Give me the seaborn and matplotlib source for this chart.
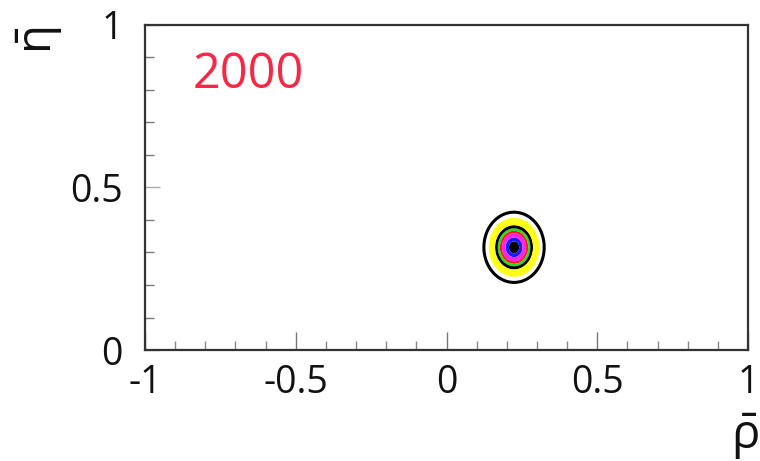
import numpy as np
import matplotlib
matplotlib.use("Agg")
import matplotlib.pyplot as plt
from matplotlib.ticker import MultipleLocator
import seaborn as sns

# ---- data ----
center_rho = 0.224          # contour centre (rho-bar)
center_eta = 0.316          # contour centre (eta-bar)
sigma_rho = 0.100           # half-width of outermost contour (rho)
sigma_eta = 0.108           # half-height of outermost contour (eta)
fill_levels = [0.0, 0.17, 0.28, 0.40, 0.47, 0.54, 0.63, 0.84]   # normalized radii bands
fill_colors = ["#000000", "#1a1aff", "#ff22ee", "#ff1a1a", "#1ee01e", "#000000", "#ffff1a"]
line_levels = [1.0]
x_ticks = [-1, -0.5, 0, 0.5, 1]
x_tick_labels = ["-1", "-0.5", "0", "0.5", "1"]
y_ticks = [0, 0.5, 1]
y_tick_labels = ["0", "0.5", "1"]
year_label = "2000"

sns.set_theme(style="ticks")
plt.rcParams["font.family"] = ["Open Sans", "DejaVu Sans"]
plt.rcParams["mathtext.fontset"] = "custom"
plt.rcParams["mathtext.rm"] = "Open Sans"
plt.rcParams["mathtext.it"] = "Open Sans:italic"
plt.rcParams["mathtext.bf"] = "Open Sans:bold"

fig = plt.figure(figsize=(7.6, 4.61), dpi=100)
ax = fig.add_axes([145 / 760, 111 / 461, 603 / 760, 325 / 461])

# grid of normalized distance from the fit centre
gx = np.linspace(center_rho - 0.2, center_rho + 0.2, 500)
gy = np.linspace(center_eta - 0.2, center_eta + 0.2, 500)
GX, GY = np.meshgrid(gx, gy)
R = np.sqrt(((GX - center_rho) / sigma_rho) ** 2 + ((GY - center_eta) / sigma_eta) ** 2)

ax.contourf(GX, GY, R, levels=fill_levels, colors=fill_colors, antialiased=True)
ax.contour(GX, GY, R, levels=line_levels, colors="black", linewidths=2.2)

ax.set_xlim(-1, 1)
ax.set_ylim(0, 1)
ax.set_xticks(x_ticks)
ax.set_xticklabels(x_tick_labels)
ax.set_yticks(y_ticks)
ax.set_yticklabels(y_tick_labels)
ax.xaxis.set_minor_locator(MultipleLocator(0.1))
ax.yaxis.set_minor_locator(MultipleLocator(0.1))

ax.tick_params(axis="x", which="major", direction="in", length=13, width=1.0,
               color="#777777", labelsize=27, pad=10, top=False)
ax.tick_params(axis="x", which="minor", direction="in", length=6.5, width=1.0,
               color="#888888", top=False)
ax.tick_params(axis="y", which="major", direction="in", length=11, width=1.0,
               color="#aaaaaa", labelsize=27, pad=16, right=False)
ax.tick_params(axis="y", which="minor", direction="in", length=6.5, width=1.0,
               color="#777777", right=False)
for lab in ax.get_xticklabels() + ax.get_yticklabels():
    lab.set_color("#111111")

for s in ax.spines.values():
    s.set_visible(True)
    s.set_color("#333333")
    s.set_linewidth(1.6)

ax.set_xlabel(r"$\bar{\mathrm{\rho}}$", fontsize=34, color="#111111")
ax.xaxis.set_label_coords(0.995, -0.19)
ax.set_ylabel(r"$\bar{\mathrm{\eta}}$", fontsize=34, color="#111111", rotation=90)
ax.yaxis.set_label_coords(-0.133, 0.952)

ax.text(0.0796, 0.846, year_label, transform=ax.transAxes, color="#f52845",
        fontsize=35, ha="left", va="center")

fig.savefig("out.png", dpi=100)
